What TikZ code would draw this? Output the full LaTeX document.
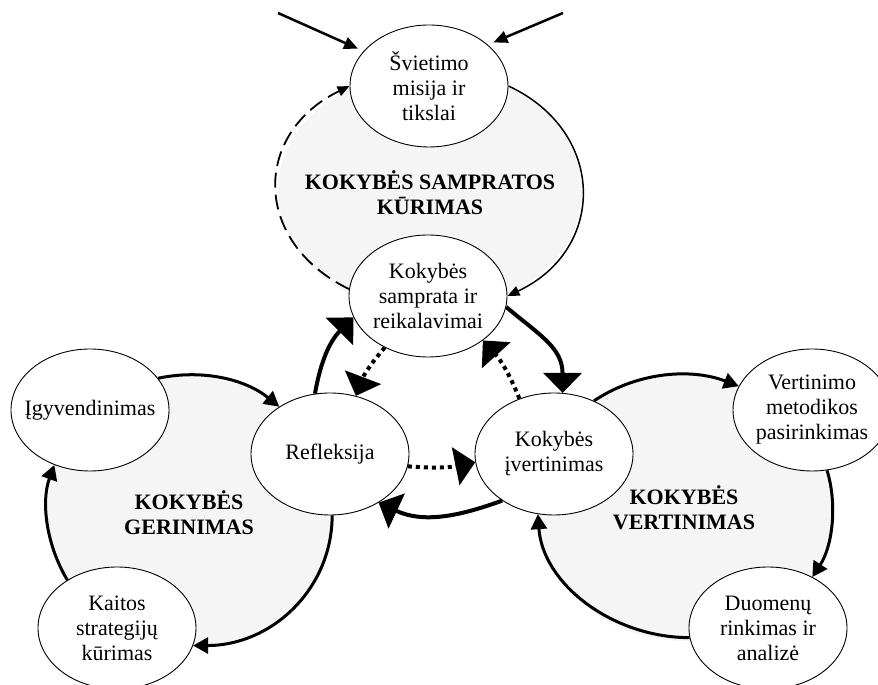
\documentclass[tikz,border=0pt]{standalone}
\usepackage{fontspec}
\setmainfont{Liberation Serif}
\usetikzlibrary{shapes.geometric,arrows.meta}
\begin{document}
\begin{tikzpicture}[x=1pt,y=1pt,
  box/.style={ellipse, draw, line width=0.9pt, fill=white,
    minimum width=158pt, minimum height=122pt, inner xsep=-25pt, inner ysep=0pt,
    align=center, font=\fontsize{22}{25}\selectfont},
  zone/.style={fill=black!4},
  zonelabel/.style={align=center, font=\fontsize{22}{25}\selectfont\bfseries},
  bigtip/.style={-{Triangle[length=20pt 0 0,width=38pt 0 0]}},
  bigarr/.style={line width=4pt, bigtip},
  dotarr/.style={line width=4pt, dash pattern=on 4pt off 4pt, bigtip},
  midarr/.style={line width=3pt, -{Triangle[length=15pt 0 0,width=16pt 0 0]}},
  thinarr/.style={line width=1.5pt, -{Triangle[length=12pt 0 0,width=10pt 0 0]}},
  dasharr/.style={line width=1.8pt, dash pattern=on 15pt off 7pt, -{Triangle[length=12pt 0 0,width=10pt 0 0]}},
  inarr/.style={line width=2.5pt, -{Triangle[length=14pt 0 0,width=12pt 0 0]}, shorten >=6pt}
]
\useasboundingbox (0,0) rectangle (878,685);
\clip (0,0) rectangle (878,685);

% shaded zones
\fill[zone] (430,494) ellipse [x radius=152, y radius=121];
\fill[zone] (190,173) ellipse [x radius=143, y radius=136];
\fill[zone] (685,177) ellipse [x radius=147, y radius=133];

% zone labels
\node[zonelabel] (lt) at (430,492.5) {KOKYBĖS SAMPRATOS\\KŪRIMAS};
\node[zonelabel] (ll) at (189,172.5) {KOKYBĖS\\GERINIMAS};
\node[zonelabel] (lr) at (684,177.5) {KOKYBĖS\\VERTINIMAS};

% nodes
\node[box] (sv)  at (429,599) {Švietimo\\misija ir\\tikslai};
\node[box] (sa)  at (428,389) {Kokybės\\samprata ir\\reikalavimai};
\node[box] (ref) at (330,231) {Refleksija};
\node[box] (iv)  at (554,231) {Kokybės\\įvertinimas};
\node[box] (ig)  at (90,275)  {Įgyvendinimas};
\node[box] (kai) at (117,57)  {Kaitos\\strategijų\\kūrimas};
\node[box] (ver) at (812,275) {Vertinimo\\metodikos\\pasirinkimas};
\node[box] (duo) at (768,57)  {Duomenų\\rinkimas ir\\analizė};

% incoming arrows at the top
\coordinate (tl) at (278,672);
\coordinate (tr) at (563,672);
\draw[inarr] (tl) -- (sv.152);
\draw[inarr] (tr) -- (sv.35);

% top zone
\draw[thinarr] (sv.east) to[out=-25,in=25,out distance=109pt,in distance=109pt] (sa.east);
\draw[dasharr] (sa.175) to[out=154,in=206,out distance=108pt,in distance=108pt] (sv.west);

% central cycle (solid)
\draw[bigarr] (sa.-8) to[out=-40,in=90,out distance=45pt,in distance=45pt] (iv.82);
\draw[bigarr] (iv.222) to[out=200,in=-25] (ref.-45);
\draw[bigarr] (ref.104) to[out=80,in=225] (sa.196);

% central cycle (dotted)
\draw[dotarr] (sa.230) to[bend right=10] (ref.66);
\draw[dotarr] (ref.-9) to[bend right=8] (iv.186);
\draw[dotarr] (iv.122) to[bend right=10] (sa.-39);

% left zone
\draw[midarr] (ig.25) to[out=12,in=141,out distance=45pt,in distance=44pt] (ref.137);
\draw[midarr] (ref.272) to[out=-90,in=0,out distance=74pt,in distance=78pt] (kai.-13);
\draw[midarr] (kai.136) to[out=121,in=250,out distance=40pt,in distance=40pt] (ig.237);

% right zone
\draw[midarr] (iv.53) to[out=34,in=159,out distance=51pt,in distance=52pt] (ver.162);
\draw[midarr] (ver.-76) to[out=-73,in=57,out distance=36pt,in distance=37pt] (duo.49);
\draw[midarr] (duo.187) to[out=180,in=-86,out distance=77pt,in distance=70pt] (iv.255);
\end{tikzpicture}
\end{document}
